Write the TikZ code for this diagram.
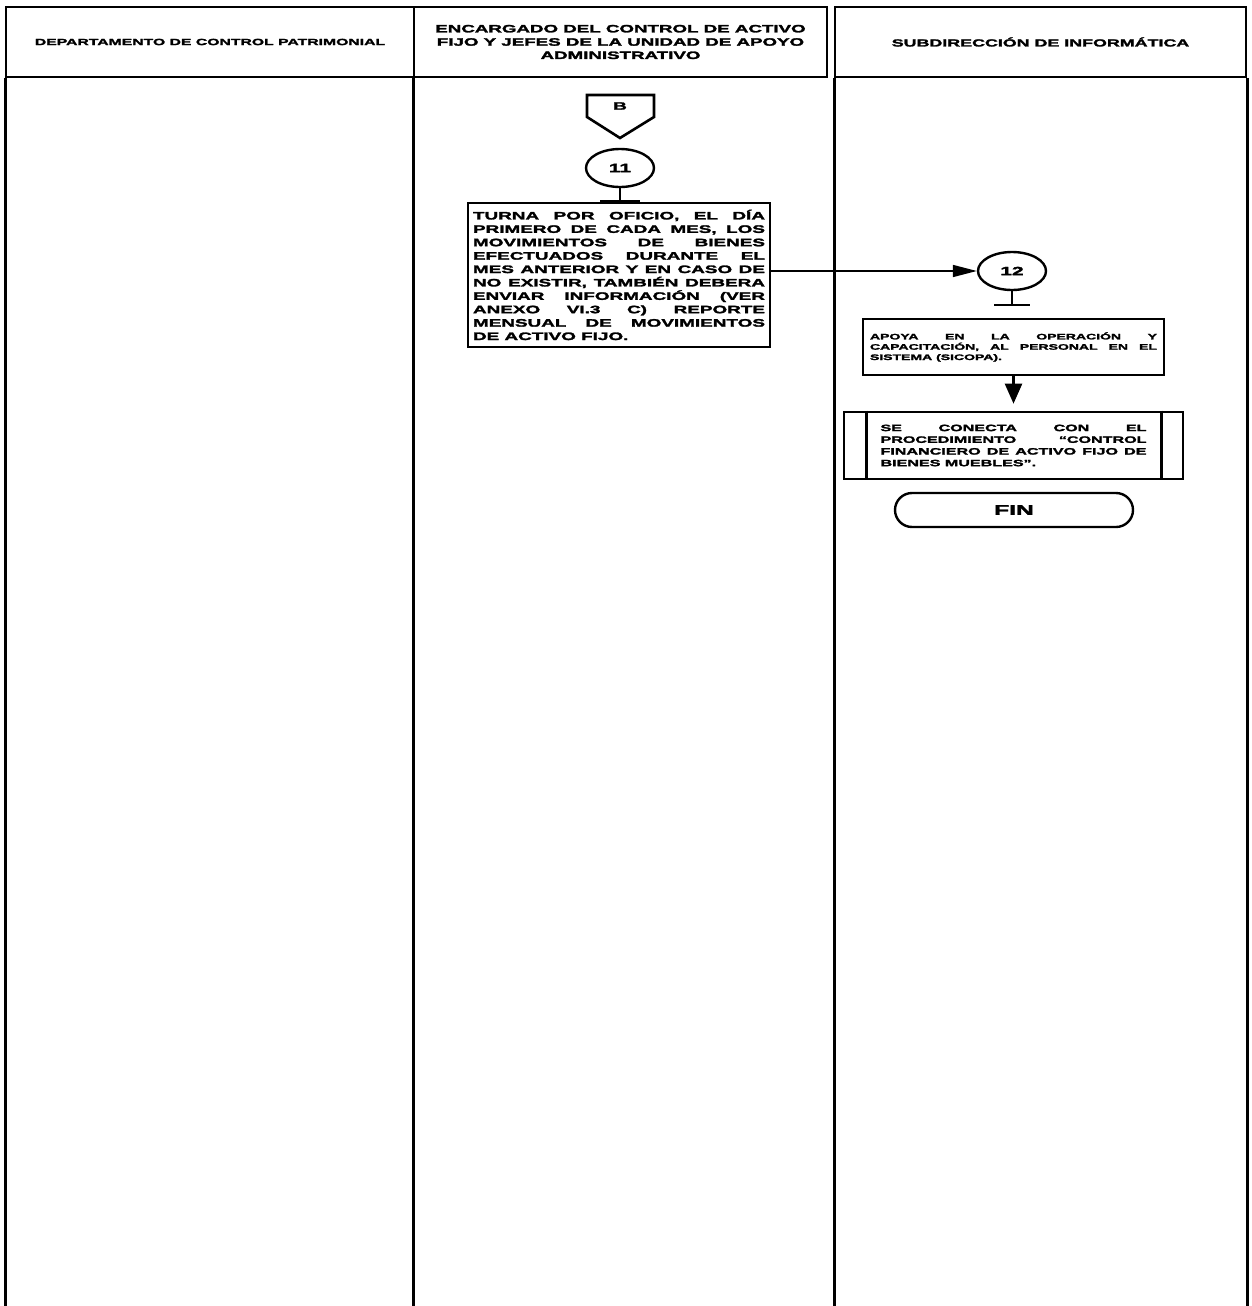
\documentclass[tikz,border=0pt]{standalone}
\usepackage{fontspec}
\setmainfont{Liberation Sans}[FakeStretch=1.75, BoldFeatures={FakeBold=2.5}]
\usepackage{tikz}
\usetikzlibrary{positioning}
\usetikzlibrary{calc}
\usetikzlibrary{arrows.meta}
\usetikzlibrary{shapes.geometric}
\tolerance=10000
\hbadness=10000
\hyphenpenalty=10000
\lineskiplimit=-100pt

\begin{document}
\begin{tikzpicture}[
  x=0.5pt, y=-0.5pt,
  lane/.style={line width=1.5pt},
  head/.style={draw, line width=1pt, minimum height=35pt, inner sep=0pt, align=center},
  conn/.style={ellipse, draw, line width=1.2pt, minimum width=34pt, minimum height=19pt, inner sep=0pt,
    font=\bfseries\fontsize{6}{6}\selectfont},
  proc/.style={rectangle, draw, line width=1.3pt, align=justify, inner ysep=2pt},
  term/.style={rectangle, rounded corners=8.5pt, draw, line width=1.2pt, minimum width=119pt,
    minimum height=17pt, font=\bfseries\fontsize{7}{7}\selectfont},
  tee/.style={line width=1pt},
  flow/.style={-{Triangle[length=12pt,width=6pt]}, line width=0.8pt},
  down/.style={-{Triangle[length=10pt,width=8.5pt]}, line width=1.2pt, shorten >=3.5pt}
]
\useasboundingbox (0,0) rectangle (1252,1306);
\coordinate (bot) at (0,1306);

% ---------- Lane headers ----------
\node[head, minimum width=204pt, font=\bfseries\fontsize{4.5}{5}\selectfont] (h1) at (210,42)
  {DEPARTAMENTO DE CONTROL PATRIMONIAL};
\node[head, minimum width=206.5pt, font=\bfseries\fontsize{5.35}{6.65}\selectfont] (h2) at (620.5,42)
  {ENCARGADO DEL CONTROL DE ACTIVO\\FIJO Y JEFES DE LA UNIDAD DE APOYO\\ADMINISTRATIVO};
\node[head, minimum width=205.5pt, font=\bfseries\fontsize{5.1}{6}\selectfont] (h3) at (1040.5,42)
  {SUBDIRECCIÓN DE INFORMÁTICA};

% ---------- Lane lines ----------
\draw[lane] (h1.south west) -- (h1.south west |- bot);
\draw[lane] (h2.south west) -- (h2.south west |- bot);
\draw[lane] (h3.south west) -- (h3.south west |- bot);
\draw[lane] (h3.south east) -- (h3.south east |- bot);

% ---------- Off-page connector B and step 11 ----------
\node[font=\bfseries\fontsize{5.4}{5.4}\selectfont] (offB) at (620,106) {B};
\draw[line width=1.3pt] (587,95) -- (654,95) -- (654,117) -- (620,138) -- (587,117) -- cycle;

\node[conn] (c11) at (620,168) {11};
\draw[tee] (c11.south) -- ++(0,13) coordinate (t11);
\draw[tee] ($(t11)+(-20,0)$) -- ($(t11)+(20,0)$);

\node[proc, text width=146pt, inner xsep=2.5pt, minimum height=72pt,
  font=\bfseries\fontsize{5.4}{6.7}\selectfont] (turna) at (619,275)
  {TURNA POR OFICIO, EL DÍA\linebreak
   PRIMERO DE CADA MES, LOS\linebreak
   MOVIMIENTOS DE BIENES\linebreak
   EFECTUADOS DURANTE EL\linebreak
   MES ANTERIOR Y EN CASO DE\linebreak
   NO EXISTIR, TAMBIÉN DEBERA\linebreak
   ENVIAR INFORMACIÓN (VER\linebreak
   ANEXO VI.3 C) REPORTE\linebreak
   MENSUAL DE MOVIMIENTOS\linebreak
   DE ACTIVO FIJO.};

% ---------- Step 12 ----------
\node[conn] (c12) at (1012,271) {12};
\draw[flow] (turna.east |- c12) -- (c12);
\draw[tee] (c12.south) -- ++(0,14) coordinate (t12);
\draw[tee] ($(t12)+(-18,0)$) -- ($(t12)+(18,0)$);

\node[proc, text width=143.5pt, inner xsep=3.5pt, minimum height=28pt,
  font=\bfseries\fontsize{4}{5.15}\selectfont] (apoya) at (1013.5,347)
  {APOYA EN LA OPERACIÓN Y\linebreak
   CAPACITACIÓN, AL PERSONAL EN EL\linebreak
   SISTEMA (SICOPA).};

\node[proc, text width=133pt, inner xsep=18.25pt, minimum height=33.5pt,
  font=\bfseries\fontsize{4.6}{5.85}\selectfont] (conecta) at (1013.5,445.5)
  {SE CONECTA CON EL\linebreak
   PROCEDIMIENTO “CONTROL\linebreak
   FINANCIERO DE ACTIVO FIJO DE\linebreak
   BIENES MUEBLES”.};
\draw[line width=1.3pt] ([xshift=12pt]conecta.north west) -- ([xshift=12pt]conecta.south west);
\draw[line width=1.3pt] ([xshift=-11.5pt]conecta.north east) -- ([xshift=-11.5pt]conecta.south east);
\draw[down] (apoya) -- (conecta);

\node[term] (fin) at (1014,510) {FIN};

\end{tikzpicture}
\end{document}
